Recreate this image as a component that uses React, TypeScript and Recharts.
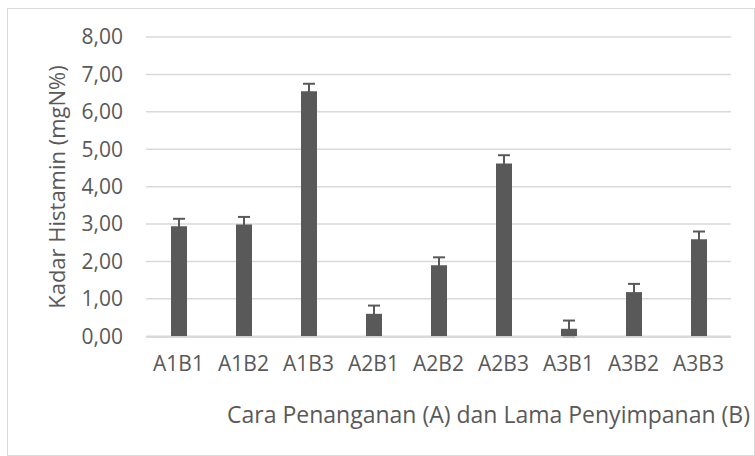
import React from "react";
import { BarChart, Bar, XAxis, YAxis, CartesianGrid, ErrorBar, Label } from "recharts";

const CATEGORIES = ["A1B1", "A1B2", "A1B3", "A2B1", "A2B2", "A2B3", "A3B1", "A3B2", "A3B3"];
const HISTAMIN = [2.94, 2.99, 6.55, 0.6, 1.9, 4.62, 0.2, 1.18, 2.59];
const ERRORS = [0.2, 0.2, 0.2, 0.22, 0.21, 0.22, 0.22, 0.22, 0.21];
const Y_TICKS = [0, 1, 2, 3, 4, 5, 6, 7, 8];

const data = CATEGORIES.map((name, i) => ({ name, value: HISTAMIN[i], err: ERRORS[i] }));

const TEXT = "#595959";
const GRID = "#d9d9d9";
const FONT = "'Open Sans', sans-serif";

const fmt = (v: number) => v.toFixed(2).replace(".", ",");

// rotated y-axis title, centred on the plot height
function YTitle(props: any) {
  const vb = props.viewBox || {};
  const cx = 48;
  const cy = (vb.y ?? 28) + (vb.height ?? 300) / 2;
  return (
    <text
      x={cx}
      y={cy}
      transform={`rotate(-90, ${cx}, ${cy})`}
      textAnchor="middle"
      dominantBaseline="central"
      fill={TEXT}
      fontSize={22}
      fontFamily={FONT}
    >
      Kadar Histamin (mgN%)
    </text>
  );
}

export default function App() {
  return (
    <div
      style={{
        position: "absolute",
        left: 7,
        top: 8,
        width: 748,
        height: 448,
        border: `1px solid ${GRID}`,
        boxSizing: "border-box",
        background: "#fff",
        fontFamily: FONT,
      }}
    >
      <BarChart
        width={746}
        height={446}
        data={data}
        margin={{ top: 28, right: 23, left: 0, bottom: 0 }}
        barSize={16}
      >
        <CartesianGrid vertical={false} stroke={GRID} strokeWidth={1.5} />
        <XAxis
          dataKey="name"
          height={118}
          axisLine={{ stroke: GRID, strokeWidth: 1.5 }}
          tickLine={false}
          tickSize={0}
          tickMargin={19}
          tick={{ fill: TEXT, fontSize: 21, fontFamily: FONT }}
          interval={0}
        >
          <Label
            value="Cara Penanganan (A) dan Lama Penyimpanan (B)"
            position="center"
            dx={50}
            dy={19}
            style={{ fill: TEXT, fontSize: 23, fontFamily: FONT }}
          />
        </XAxis>
        <YAxis
          width={138}
          domain={[0, 8]}
          ticks={Y_TICKS}
          tickFormatter={fmt}
          axisLine={false}
          tickLine={false}
          tickSize={0}
          tickMargin={23}
          tick={{ fill: TEXT, fontSize: 21, fontFamily: FONT }}
        >
          <Label content={YTitle} />
        </YAxis>
        <Bar dataKey="value" fill="#595959" isAnimationActive={false}>
          <ErrorBar dataKey="err" width={6} stroke="#595959" strokeWidth={2} direction="y" />
        </Bar>
      </BarChart>
    </div>
  );
}
